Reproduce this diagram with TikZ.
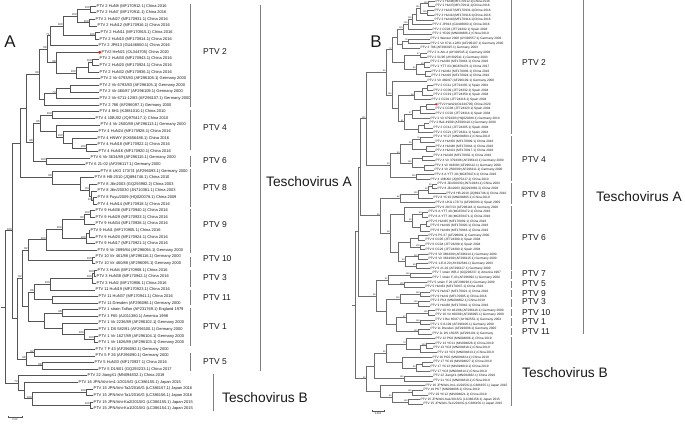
\documentclass[tikz,border=0pt]{standalone}
\usepackage{fontspec}
\setmainfont{Liberation Sans}
\usetikzlibrary{calc,arrows.meta}
\definecolor{pt-ink}{HTML}{1A1A1A}
\definecolor{pt-branch}{HTML}{555555}
\definecolor{pt-branchB}{HTML}{6E6E6E}
\definecolor{pt-bar}{HTML}{808080}
\definecolor{pt-dot}{HTML}{E5231B}

% one rectangular clade: name, x of the fork, two children, bootstrap
\newcommand\mkclade[5]{%
  \path ($(#3)!.5!(#4)$) coordinate (cmid) (#2,0) coordinate (cx);
  \coordinate[label={[bs]above left:#5}] (#1) at (cx |- cmid);
  \draw[br] (#1) |- (#3) (#1) |- (#4);}

\begin{document}
\begin{tikzpicture}[
  x=1bp,y=-1bp,
  leafA/.style={anchor=west,inner sep=0.4bp,text=pt-ink,font=\fontsize{4}{4.5}\selectfont},
  leafB/.style={leafA,font=\fontsize{3.2}{3.6}\selectfont},
  ptv/.style={anchor=west,inner sep=0pt,text=pt-ink,font=\fontsize{8.5}{9}\selectfont},
  tesch/.style={ptv,font=\fontsize{13.8}{15}\selectfont},
  panel/.style={inner sep=0pt,text=pt-ink,font=\fontsize{17}{18}\selectfont},
  bar/.style={draw=pt-bar,line width=1bp},
  scl/.style={draw=pt-branch,line width=0.4bp,{Bar[width=1.8bp]}-{Bar[width=1.8bp]}},
  sclabel/.style={anchor=north,inner sep=0.3bp,text=pt-ink,font=\fontsize{2.6}{3}\selectfont}
]
\useasboundingbox[fill=white] (0,0) rectangle (685,424);

\node[panel] (labA) at (10,42)  {A};
\node[panel] (labB) at (376,42) {B};

%% ---------------- panel A ----------------
\begin{scope}[br/.style={draw=pt-branch,line width=0.45bp},
              bs/.style={inner sep=0.2bp,text=pt-ink,font=\fontsize{2.8}{3}\selectfont}]
\foreach \x/\t [count=\i] in {
  96/{PTV 2 HuN8 (MF170912.1) China 2016},
  96/{PTV 2 HuN7 (MF170911.1) China 2016},
  95/{PTV 2 HuN27 (MF170931.1) China 2016},
  97/{PTV 2 HuN12 (MF170916.1) China 2016},
  100/{PTV 2 HuN11 (MF170915.1) China 2016},
  99/{PTV 2 HuN10 (MF170914.1) China 2016},
  98/{PTV 2 JP813 (GU446660.1) China 2016},
  101/{PTV2 HeN21 (OL344705) China 2020},
  99/{PTV 2 HuN30 (MF170943.1) China 2016},
  99/{PTV 2 HuN20 (MF170924.1) China 2016},
  99/{PTV 2 HuN32 (MF170936.1) China 2016},
  100/{PTV 2 Vir 6793/83 (AF296108.1) Germany 2000},
  99/{PTV 2 Vir 6793/83 (AF296105.1) Germany 2000},
  99/{PTV 2 Vir 460/87 (AF296109.1) Germany 2000},
  99/{PTV 2 Vir 6711-12/83 (AF296107.1) Germany 2000},
  99/{PTV 2 786 (AF296097.1) Germany 2000},
  99/{PTV 4 8H1 (KJ881010.1) China 2010},
  95/{PTV 4 10BJ02 (JQ975417.1) China 2010},
  100/{PTV 4 Vir 2500/89 (AF296113.1) Germany 2000},
  98/{PTV 4 HuN24 (MF170928.1) China 2016},
  97/{PTV 4 HNWY (KX656486.1) China 2016},
  97/{PTV 4 HuN18 (MF170922.1) China 2016},
  98/{PTV 4 HuN16 (MF170920.1) China 2016},
  90/{PTV 6 Vir 3634/89 (AF296115.1) Germany 2000},
  85/{PTV 6 21-02 (AF296117.1) Germany 2000},
  100/{PTV 8 UKG 173/74 (AF296093.1) Germany 2000},
  94/{PTV 8 HB-2010 (JQ894746.1) China 2010},
  97/{PTV 8 Jilin2003 (GQ293982.2) China 2003},
  97/{PTV 8 Jilin/20030 (JN710381.1) China 2003},
  97/{PTV 8 Fuyu/2009 (HQ020078.1) China 2009},
  97/{PTV 4 HuN14 (MF170918.1) China 2016},
  95/{PTV 9 HuN36 (MF170940.1) China 2016},
  95/{PTV 9 HuN29 (MF170933.1) China 2016},
  95/{PTV 9 HuN34 (MF170938.1) China 2016},
  90/{PTV 9 HuN1 (MF170905.1) China 2016},
  95/{PTV 9 HuN20 (MF170924.1) China 2016},
  95/{PTV 9 HuN17 (MF170921.1) China 2016},
  97/{PTV 9 Vir 2899/84 (AF296094.1) Germany 2000},
  95/{PTV 10 Vir 461/88 (AF296116.1) Germany 2000},
  95/{PTV 10 Vir 460/88 (AF296095.1) Germany 2000},
  97/{PTV 3 HuN4 (MF170908.1) China 2016},
  96/{PTV 3 HuN38 (MF170942.1) China 2016},
  96/{PTV 3 HuN2 (MF170906.1) China 2016},
  95/{PTV 11 HuN19 (MF170923.1) China 2016},
  98/{PTV 11 HuN37 (MF170941.1) China 2016},
  98/{PTV 11 Dresden (AF296096.1) Germany 2000},
  98/{PTV 1 strain Talfan (AF231769.1) England 1979},
  98/{PTV 1 F65 (AJ011380.1) America 1998},
  98/{PTV 1 Vir 2236/89 (AF296102.1) Germany 2000},
  98/{PTV 1 DS 582/91 (AF296100.1) Germany 2000},
  98/{PTV 1 Vir 1627/89 (AF296104.1) Germany 2000},
  98/{PTV 1 Vir 1626/89 (AF296103.1) Germany 2000},
  95/{PTV 7 F 43 (AF296092.1) Germany 2000},
  95/{PTV 5 F 26 (AF296090.1) Germany 2000},
  94/{PTV 5 HuN33 (MF170937.1) China 2016},
  98/{PTV 5 D1/601 (GQ293233.1) China 2017},
  87/{PTV 22 JiangX1 (MN094832.1) China 2019},
  78/{PTV 16 JPN/Ishi-Im1-1/2015/G (LC386155.1) Japan 2015},
  93/{PTV 15 JPN/Ishi-Ta2/2016/G (LC386157.1) Japan 2016},
  93/{PTV 15 JPN/Ishi-Ta1/2016/G (LC386156.1) Japan 2016},
  93/{PTV 15 JPN/Ishi-Ka2/2015/G (LC386155.1) Japan 2015},
  93/{PTV 15 JPN/Ishi-Ka1/2015/G (LC386154.1) Japan 2015}}
  \node[leafA] (A\i) at (\x,{6+6.6*(\i-1)}) {\t};

% PTV 2
\mkclade{a1}{90}{A1}{A2}{100}
\mkclade{a2}{89}{A3}{A4}{100}
\mkclade{a3}{77}{a1}{a2}{100}
\mkclade{a4}{95}{A5}{A6}{100}
\mkclade{a5}{63}{a3}{a4}{100}
\mkclade{a6}{50}{a5}{A7}{71}
\mkclade{a7}{92}{A9}{A10}{100}
\mkclade{a8}{88}{a7}{A11}{}
\mkclade{a9}{76}{a8}{A12}{100}
\mkclade{a10}{56}{A8}{a9}{98}
\mkclade{a11}{47}{a6}{a10}{68}
\mkclade{a12}{70}{A13}{A14}{}
\mkclade{a13}{56}{a12}{A15}{74}
\mkclade{a14}{44}{a13}{A16}{}
\mkclade{a15}{39}{a11}{a14}{99}
% PTV 4, 6, 8
\mkclade{b1}{52}{A17}{A18}{100}
\mkclade{b2}{86}{A22}{A23}{100}
\mkclade{b3}{72}{A21}{b2}{}
\mkclade{b4}{63}{A20}{b3}{100}
\mkclade{b5}{56}{A19}{b4}{}
\mkclade{b6}{40}{b1}{b5}{95}
\mkclade{c1}{46}{A24}{A25}{100}
\mkclade{d1}{93}{A30}{A31}{100}
\mkclade{d2}{91}{A29}{d1}{}
\mkclade{d3}{89}{A28}{d2}{84}
\mkclade{d4}{80}{A27}{d3}{}
\mkclade{d5}{52}{A26}{d4}{90}
\mkclade{e1}{33}{b6}{c1}{98}
\mkclade{e2}{26}{a15}{e1}{}
\mkclade{e3}{20}{e2}{d5}{}
% PTV 9, 10, 3, 11, 1
\mkclade{f1}{90}{A32}{A33}{100}
\mkclade{f2}{84}{f1}{A34}{80}
\mkclade{f3}{89}{A35}{A36}{}
\mkclade{f4}{86}{f3}{A37}{100}
\mkclade{f5}{62}{f2}{f4}{100}
\mkclade{f6}{46}{f5}{A38}{100}
\mkclade{g1}{92}{A39}{A40}{100}
\mkclade{g2}{28}{f6}{g1}{82}
\mkclade{h1}{94}{A41}{A42}{100}
\mkclade{h2}{92}{h1}{A43}{100}
\mkclade{h3}{50}{h2}{A44}{100}
\mkclade{i1}{52}{A45}{A46}{}
\mkclade{i2}{34}{h3}{i1}{86}
\mkclade{j1}{62}{A47}{A48}{98}
\mkclade{j2}{94}{A51}{A52}{100}
\mkclade{j3}{84}{A50}{j2}{100}
\mkclade{j4}{62}{A49}{j3}{}
\mkclade{j5}{44}{j1}{j4}{}
\mkclade{j6}{28}{i2}{j5}{}
\mkclade{m1}{22}{g2}{j6}{82}
% PTV 7, 5
\mkclade{k1}{34}{A53}{A54}{92}
\mkclade{k2}{42}{A55}{A56}{98}
\mkclade{k3}{26}{k1}{k2}{98}
\mkclade{m2}{17}{m1}{k3}{}
\mkclade{tA}{12}{e3}{m2}{100}
% Teschovirus B
\mkclade{n1}{86}{A59}{A60}{100}
\mkclade{n2}{90}{A61}{A62}{100}
\mkclade{n3}{32}{n1}{n2}{100}
\mkclade{n4}{24}{A58}{n3}{}
\mkclade{n5}{18}{A57}{n4}{73}
\mkclade{rA}{5}{tA}{n5}{}
\draw[br] (rA) -- ++(-4,0);
\fill[pt-dot] ($(A8.west)+(-1.2,0)$) circle[radius=1.6bp];

\coordinate (sa1) at (8,417);
\coordinate (sa2) at (22,417);
\draw[scl] (sa1) -- (sa2);
\node[sclabel] (saL) at ($(sa1)!.5!(sa2)+(0,1)$) {0.02};
\end{scope}

\draw[bar] (190,4) -- (190,107);   \node[ptv] (pA2)  at (203,52)  {PTV 2};
\draw[bar] (190,110) -- (190,150); \node[ptv] (pA4)  at (203,128) {PTV 4};
\draw[bar] (190,156) -- (190,167); \node[ptv] (pA6)  at (203,161) {PTV 6};
\draw[bar] (190,169) -- (190,207); \node[ptv] (pA8)  at (203,188) {PTV 8};
\draw[bar] (190,209) -- (190,253); \node[ptv] (pA9)  at (203,225) {PTV 9};
\draw[bar] (190,257) -- (190,267); \node[ptv] (pA10) at (203,259) {PTV 10};
\draw[bar] (190,270) -- (190,287); \node[ptv] (pA3)  at (203,278) {PTV 3};
\draw[bar] (190,290) -- (190,305); \node[ptv] (pA11) at (203,298) {PTV 11};
\draw[bar] (190,308) -- (190,346); \node[ptv] (pA1)  at (203,327) {PTV 1};
\draw[bar] (190,353) -- (190,371); \node[ptv] (pA5)  at (203,362) {PTV 5};
\draw[bar] (260,5) -- (260,371);   \node[tesch] (tAA) at (266,182) {Teschovirus A};
\draw[bar] (213,374) -- (213,411); \node[tesch] (tAB) at (222,398) {Teschovirus B};

%% ---------------- panel B ----------------
\begin{scope}[br/.style={draw=pt-branchB,line width=0.35bp},
              bs/.style={inner sep=0.2bp,text=pt-ink,font=\fontsize{2.2}{2.5}\selectfont}]
\foreach \x/\t [count=\i] in {
  435/{PTV 2 HuN8(MF170912.1)China 2016},
  435/{PTV 2 HuN7(MF170911.1)China 2016},
  434/{PTV 2 HuN27(MF170931.1)China 2016},
  434/{PTV 2 HuN12(MF170916.1)China 2016},
  434/{PTV 2 HuN10(MF170914.1)China 2016},
  432/{PTV 2 JP813 (GU446660.1) China 2016},
  432/{PTV 2 CC03 (JF724342.1) Spain 2004},
  432/{PTV 2 YD20 (MN094806.1) China 2019},
  430/{PTV 2 Wanzer 2000 (AY392557.1) Germany 2003},
  430/{PTV 2 Vir 6711-12/83 (AF296107.1) Germany 2000},
  420/{PTV 2 786 (AF296097.1) Germany 2003},
  427/{PTV 2 X-Ark-4 (AY392545.1) Germany 2003},
  427/{PTV 2 51/95 (AY392541.1) Germany 2003},
  430/{PTV 2 HuN30 (MF170943.1) China 2016},
  430/{PTV 2 YTT 03 (MG878476.1) China 2017},
  431/{PTV 2 HuN32 (MF170936.1) China 2016},
  431/{PTV 2 HuN20 (MF170924.1) China 2016},
  427/{PTV 2 Vir 460/87 (AF296109.1) Germany 2000},
  433/{PTV 2 CC11 (JF724335.1) Spain 2004},
  433/{PTV 2 CC09 (JF724332.1) Spain 2004},
  433/{PTV 2 CC19 (JF724350.1) Spain 2004},
  431/{PTV 2 CC01 (JF724316.1) Spain 2004},
  437/{PTV2 HeN21(OL344705) China 2020},
  435/{PTV 2 CC08 (JF724323.1) Spain 2004},
  435/{PTV 2 CC02 (JF724314.1) Spain 2004},
  430/{PTV 2 Vir 6793/83 (HQ020280.1) Germany 2010},
  429/{PTV 2 Bek 49/89 (AF296110.1) Germany 2000},
  433/{PTV 2 CC12 (JF724305.1) Spain 2004},
  433/{PTV 2 CC21 (JF724311.1) Spain 2004},
  433/{PTV 4 YC27 (MN094803.1) China 2019},
  435/{PTV 4 HuN50 (MF170909.1) China 2016},
  435/{PTV 4 HuN48 (MF170944.1) China 2016},
  435/{PTV 4 HuN13 (MF170917.1) China 2016},
  433/{PTV 4 HuN28 (MF170932.1) China 2016},
  435/{PTV 4 Vir 3794/88 (AF296113.1) Germany 2000},
  434/{PTV 4 Vir 918/88 (AF296112.1) Germany 2000},
  434/{PTV 4 Vir 2500/89 (AF296111.1) Germany 2000},
  434/{PTV 4 A YTT 28 (MG878474.1) China 2016},
  430/{PTV 4 10BJ02 (JQ975417.1) China 2010},
  437/{PTV 8 Jilin/20030 (JN710381.1) China 2003},
  437/{PTV 8 Jilin2003 (GQ293982.2) China 2003},
  446/{PTV 8 HB-2010 (JQ894746.1) China 2010},
  433/{PTV 8 YC10 (MN094805.1) China 2019},
  435/{PTV 8 UKG 173/74 (AF296093.1) Spain 2000},
  435/{PTV 6 28/7/13 (AF296118.1) Germany 2000},
  428/{PTV 6 A YTT 40 (MG878472.1) China 2016},
  428/{PTV 6 A YTT 48 (MG878471.1) China 2016},
  428/{PTV 6 HuN35 (MF170939.1) China 2016},
  430/{PTV 6 HuN16 (MF170920.1) China 2016},
  430/{PTV 6 HuN39 (MF170943.1) China 2016},
  428/{PTV 6 PS 37 (AF296091.1) Germany 2000},
  425/{PTV 6 CC05 (JF724309.1) Spain 2004},
  425/{PTV 6 CC04 (JF724299.1) Spain 2004},
  425/{PTV 6 CC26 (JF724300.1) Spain 2004},
  428/{PTV 6 Vir 3664/89 (AF296114.1) Germany 2000},
  428/{PTV 6 Vir 3634/89 (AF296115.1) Germany 2000},
  428/{PTV 6 1-E-8.20 (AY392549.1) Germany 2003},
  430/{PTV 6 21-02 (AF296117.1) Germany 2000},
  432/{PTV 7 strain WR-2 (GQ293237.1) America 1967},
  432/{PTV 7 strain F-43 (AF296092.1) Germany 2000},
  427/{PTV 5 strain F 26 (AF296090.1) Germany 2000},
  425/{PTV 5 HuN33 (MF170937.1) China 2016},
  430/{PTV 9 HuN17 (MF170921.1) China 2016},
  430/{PTV 9 HuN1 (MF170905.1) China 2016},
  430/{PTV 3 PK4 (MN094802.1) China 2019},
  430/{PTV 3 HuN38 (MF170942.1) China 2016},
  435/{PTV 10 Vir 461/88 (AF296116.1) Germany 2000},
  435/{PTV 10 Vir 460/88 (AF296095.1) Germany 2000},
  435/{PTV 1 Bei 65/87 (AY392552.1) Germany 2003},
  430/{PTV 1 S 8-109 (AF296106.1) Germany 2000},
  430/{PTV 11 Dresden (AF296096.1) Germany 2000},
  432/{PTV 11 DS 150/05 (AF296101.1) Germany},
  435/{PTV 12 PK8 (MN094806.1) China 2019},
  435/{PTV 13 YC21 (MN094828.1) China 2019},
  433/{PTV 13 YC8 (MN094818.1) China 2019},
  437/{PTV 13 YC6 (MN094813.1) China 2019},
  432/{PTV 16 PG5 (MN094824.1) China 2019},
  433/{PTV 17 YC19 (MN094827.1) China 2019},
  430/{PTV 17 YC13 (MN094819.1) China 2019},
  430/{PTV 17 YC8 (MN094814.1) China 2019},
  433/{PTV 22 JiangX1 (MN094832.1) China 2019},
  433/{PTV 21 YC2 (MN094810.1) China 2019},
  425/{PTV 16 JPN/Ishi-Im1-1/2015/G (LC386155.1) Japan 2015},
  423/{PTV 19 PK7 (MN094808.1) China 2019},
  428/{PTV 19 YC12 (MN094821.1) China 2019},
  420/{PTV 15 JPN/Ishi-Ka1/2015/G (LC386158.1) Japan 2015},
  423/{PTV 15 JPN/Ishi-Ta1/2016/G (LC386156.1) Japan 2015}}
  \node[leafB] (B\i) at (\x,{1.2+4.685*(\i-1)}) {\t};

% PTV 2
\mkclade{p1}{428}{B1}{B2}{100}
\mkclade{p2}{427}{B3}{B4}{100}
\mkclade{p3}{420}{p1}{p2}{100}
\mkclade{p4}{416}{p3}{B5}{}
\mkclade{p5}{412}{p4}{B6}{100}
\mkclade{p6}{408}{p5}{B7}{100}
\mkclade{p7}{403}{p6}{B8}{100}
\mkclade{p8}{408}{B9}{B10}{79}
\mkclade{p9}{402}{p8}{B11}{}
\mkclade{p10}{397}{p7}{p9}{}
\mkclade{p11}{420}{B12}{B13}{97}
\mkclade{p12}{424}{B14}{B15}{99}
\mkclade{p13}{425}{B16}{B17}{}
\mkclade{p14}{416}{p12}{p13}{85}
\mkclade{p15}{404}{p11}{p14}{}
\mkclade{p16}{392}{p10}{p15}{72}
\mkclade{p17}{427}{B19}{B20}{}
\mkclade{p18}{422}{p17}{B21}{}
\mkclade{p19}{414}{p18}{B22}{98}
\mkclade{p20}{426}{B23}{B24}{}
\mkclade{p21}{420}{p20}{B25}{}
\mkclade{p22}{412}{p21}{B26}{97}
\mkclade{p23}{424}{B27}{B28}{}
\mkclade{p24}{418}{p23}{B29}{}
\mkclade{p25}{404}{p22}{p24}{41}
\mkclade{p26}{398}{p19}{p25}{}
\mkclade{p27}{392}{B18}{p26}{100}
\mkclade{p28}{386}{p16}{p27}{99}
% PTV 4
\mkclade{p29}{420}{B30}{B31}{78}
\mkclade{p30}{426}{B32}{B33}{}
\mkclade{p31}{412}{p29}{p30}{99}
\mkclade{p32}{422}{B34}{B35}{}
\mkclade{p33}{424}{B36}{B37}{}
\mkclade{p34}{412}{p32}{p33}{100}
\mkclade{p35}{400}{p31}{p34}{95}
\mkclade{p36}{416}{B38}{B39}{100}
\mkclade{p37}{390}{p35}{p36}{99}
\mkclade{p38}{366}{p28}{p37}{100}
% PTV 8, 6
\mkclade{p39}{432}{B40}{B41}{99}
\mkclade{p40}{428}{p39}{B42}{98}
\mkclade{p41}{418}{p40}{B43}{100}
\mkclade{p42}{400}{p41}{B44}{88}
\mkclade{p43}{422}{B46}{B47}{99}
\mkclade{p44}{426}{B48}{B49}{}
\mkclade{p45}{420}{p44}{B50}{}
\mkclade{p46}{412}{p43}{p45}{99}
\mkclade{p47}{404}{B45}{p46}{}
\mkclade{p48}{418}{B51}{B52}{}
\mkclade{p49}{420}{B53}{B54}{100}
\mkclade{p50}{410}{p48}{p49}{}
\mkclade{p51}{418}{B55}{B56}{100}
\mkclade{p52}{416}{B57}{B58}{88}
\mkclade{p53}{405}{p51}{p52}{99}
\mkclade{p54}{398}{p50}{p53}{}
\mkclade{p55}{390}{p47}{p54}{98}
\mkclade{p56}{380}{p42}{p55}{85}
\mkclade{p57}{360}{p38}{p56}{}
% PTV 7, 5, 9, 3, 10, 1, 11
\mkclade{p58}{410}{B59}{B60}{100}
\mkclade{p59}{404}{B61}{B62}{100}
\mkclade{p60}{388}{p58}{p59}{92}
\mkclade{p61}{420}{B63}{B64}{100}
\mkclade{p62}{418}{B65}{B66}{100}
\mkclade{p63}{400}{p61}{p62}{100}
\mkclade{p64}{428}{B67}{B68}{100}
\mkclade{p65}{420}{B69}{B70}{100}
\mkclade{p66}{406}{p64}{p65}{97}
\mkclade{p67}{418}{B71}{B72}{100}
\mkclade{p68}{396}{p66}{p67}{}
\mkclade{p69}{386}{p63}{p68}{}
\mkclade{p70}{376}{p60}{p69}{98}
\mkclade{p71}{358}{p57}{p70}{}
% Teschovirus B
\mkclade{p72}{426}{B74}{B75}{100}
\mkclade{p73}{420}{p72}{B76}{}
\mkclade{p74}{406}{B73}{p73}{74}
\mkclade{p75}{422}{B78}{B79}{}
\mkclade{p76}{416}{p75}{B80}{99}
\mkclade{p77}{402}{B77}{p76}{}
\mkclade{p78}{386}{p74}{p77}{99}
\mkclade{p79}{404}{B81}{B82}{100}
\mkclade{p80}{374}{p78}{p79}{}
\mkclade{p81}{412}{B84}{B85}{100}
\mkclade{p82}{408}{B86}{B87}{100}
\mkclade{p83}{392}{p81}{p82}{85}
\mkclade{p84}{380}{B83}{p83}{}
\mkclade{p85}{366}{p80}{p84}{99}
\mkclade{rB}{355}{p71}{p85}{}
\draw[br] (rB) -- ++(-3,0);
\fill[pt-dot] ($(B23.west)+(-0.9,0)$) circle[radius=1.2bp];

\coordinate (sb1) at (372,411);
\coordinate (sb2) at (384,411);
\draw[scl] (sb1) -- (sb2);
\node[sclabel] (sbL) at ($(sb1)!.5!(sb2)+(0,1)$) {0.050};
\end{scope}

\draw[bar] (511,0) -- (511,134);   \node[ptv] (pB2)  at (522,63)  {PTV 2};
\draw[bar] (511,136) -- (511,181); \node[ptv] (pB4)  at (522,160) {PTV 4};
\draw[bar] (511,183) -- (511,204); \node[ptv] (pB8)  at (522,195) {PTV 8};
\draw[bar] (511,206) -- (511,270); \node[ptv] (pB6)  at (522,238) {PTV 6};
\draw[bar] (511,271) -- (511,279); \node[ptv] (pB7)  at (522,274) {PTV 7};
\draw[bar] (511,281) -- (511,288); \node[ptv] (pB5)  at (522,284) {PTV 5};
\draw[bar] (511,290) -- (511,297); \node[ptv] (pB9)  at (522,293.5) {PTV 9};
\draw[bar] (511,299) -- (511,307); \node[ptv] (pB3)  at (522,302) {PTV 3};
\draw[bar] (511,309) -- (511,316); \node[ptv] (pB10) at (522,312.5) {PTV 10};
\draw[bar] (511,318) -- (511,326); \node[ptv] (pB1)  at (522,322) {PTV 1};
\draw[bar] (511,328) -- (511,335); \node[ptv] (pB11) at (522,331.5) {PTV 11};
\draw[bar] (583,0) -- (583,334);   \node[tesch] (tBA) at (596,197) {Teschovirus A};
\draw[bar] (511,337) -- (511,406); \node[tesch] (tBB) at (522,373) {Teschovirus B};

\end{tikzpicture}
\end{document}
